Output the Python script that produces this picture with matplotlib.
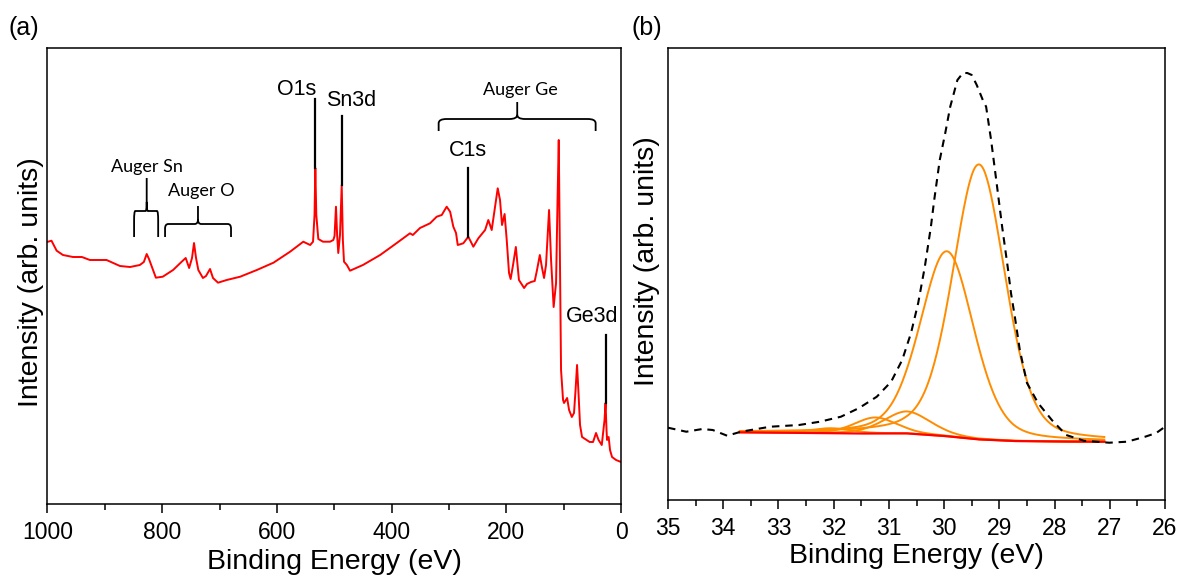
import numpy as np
import matplotlib
matplotlib.use("Agg")
import matplotlib.pyplot as plt
from matplotlib.path import Path
from matplotlib.patches import PathPatch
from matplotlib.ticker import MultipleLocator

plt.rcParams['font.family'] = ['Liberation Sans', 'DejaVu Sans']

# ---------------- (a) survey spectrum ----------------
survey_be = [999, 993, 984, 973, 955.5, 940, 926, 897, 873.6, 856, 839, 832, 827, 823,
             818, 811, 799, 781, 766, 759, 753, 748, 744.5, 741, 737, 729, 723.6, 716.6,
             711.4, 702.7, 687.5, 664, 635, 606, 577, 554, 542, 537, 534.4, 533, 531.3,
             527.8, 519.6, 507.4, 501.6, 499.5, 497, 495, 493, 490, 487, 485, 483, 478,
             472.5, 450, 420, 391, 368, 363, 350.5, 333, 321.4, 312.6, 304, 298, 292.4,
             287.7, 284.7, 275, 266.3, 257.5, 248.8, 237, 231.4, 225.5, 215, 211, 207.5,
             203, 199.3, 195.3, 192.5, 188.3, 183.4, 180.5, 178, 169, 164, 157, 150.5,
             146.5, 141.6, 137.7, 134.2, 130.8, 125.5, 122, 117.5, 113.3, 110.7, 108.6,
             106.7, 104.6, 101.1, 99.4, 94, 90.6, 85.8, 82, 79.3, 76.7, 74, 71.5, 68,
             54.7, 48.8, 43.6, 39.2, 33.6, 28.8, 27, 25.3, 24.4, 21.6, 19.2, 15.7, 8.7, 0]
survey_int = [262.3, 263.3, 253.3, 249, 247, 247, 244, 244, 238, 237, 239, 242, 250, 245,
              237.3, 226.3, 227.3, 234, 242.3, 246, 236, 246, 261, 246, 234, 226, 228, 235,
              226, 221.3, 224, 227.3, 234, 241.3, 252.3, 262.3, 259, 262.3, 289, 336, 289,
              265, 262.3, 262.3, 264, 268, 297.3, 269, 251, 269, 319, 264, 242.3, 239,
              233.3, 239, 249, 261, 270.7, 269, 276, 280.7, 287.3, 289, 297.3, 292.3, 277.3,
              271, 259, 260.7, 267.3, 257.3, 265.7, 274, 284, 274, 315.7, 304, 279,
              290, 264, 231, 225, 239, 257, 239, 224, 216, 220, 222, 223,
              234, 249, 236, 226, 239, 294, 244, 197, 221, 304, 364,
              254, 134, 104, 101, 106, 94, 87, 91, 114, 139, 109, 79, 67,
              62, 62, 71, 64, 59, 84, 101, 74, 64, 67, 54, 47, 44, 42]

# peak markers: label, line x, line bottom, line top, label x, label y
peak_labels = ['O1s', 'Sn3d', 'C1s', 'Ge3d']
peak_line_x = [533, 487, 266, 27]
peak_line_lo = [336, 319, 267, 101]
peak_line_hi = [405, 388, 336, 169]
peak_text_x = [565, 471, 267.5, 50.5]
peak_text_y = [415, 404, 354, 187]

# Auger braces: label, left, right, leg bottom, bar, stem top, label x, label y
auger_labels = ['Auger Sn', 'Auger O', 'Auger Ge']
auger_left = [849, 795, 318]
auger_right = [807, 680, 44.3]
auger_stem = [827, 737.6, 181]
auger_bottom = [267, 267, 373]
auger_bar = [293, 280, 385]
auger_top = [326, 298, 402]
auger_text_x = [826.5, 732, 176]
auger_text_y = [337, 313, 414]

# ---------------- (b) Ge3d region ----------------
ge_be = [35.0, 34.67, 34.38, 34.19, 33.93, 33.68, 33.15, 32.63, 32.25, 31.87, 31.54,
         31.22, 30.96, 30.76, 30.60, 30.47, 30.35, 30.24, 30.18, 30.08, 29.98, 29.89,
         29.76, 29.66, 29.58, 29.50, 29.41, 29.30, 29.24, 29.15, 29.05, 28.95, 28.85,
         28.79, 28.72, 28.63, 28.50, 28.30, 28.05, 27.79, 27.47, 27.01, 26.69, 26.36,
         26.16, 26.0]
ge_int = [72.3, 68.3, 71, 70, 64.3, 68.3, 73.3, 75, 78.3, 83.3, 92,
          103.3, 118.3, 140, 167, 197, 233.3, 273.3, 300, 340, 367, 393.3,
          420, 427, 427, 425, 415, 400, 393.3, 360, 317, 273.3, 233.3,
          207, 183.3, 150, 117, 97, 80, 65, 59.3, 57.3, 58.3, 63.3,
          67, 73.3]

bg_be = [33.7, 32.5, 31.5, 30.7, 30.05, 29.4, 28.76, 28.0, 27.1]
bg_int = [67.7, 67.0, 66.5, 66.7, 64.3, 60.7, 59.0, 58.5, 58.3]

comp_center = [29.37, 29.95, 30.67, 31.25, 32.05]
comp_height = [275, 185, 22, 16, 5]
comp_fwhm = [1.12, 1.15, 1.0, 0.9, 0.9]
comp_gl_mix = 0.3

RED = '#ff0000'
ORANGE = '#ff8c00'

fig = plt.figure(figsize=(11.78, 5.75), dpi=100)
ax1 = fig.add_axes([0.0403, 0.1235, 0.4869, 0.793])
ax2 = fig.add_axes([0.5671, 0.1304, 0.4219, 0.7861])

ax1.plot(survey_be, survey_int, color=RED, lw=1.4)
ax1.set_xlim(1000, 0)
ax1.set_ylim(0, 456)

for lab, x, lo, hi, tx, ty in zip(peak_labels, peak_line_x, peak_line_lo,
                                  peak_line_hi, peak_text_x, peak_text_y):
    ax1.plot([x, x], [lo, hi], color='black', lw=1.6)
    ax1.text(tx, ty, lab, ha='center', va='center', fontsize=15.5)

# curly braces over the Auger regions
for lab, x0, x1, xm, yb, ybar, yt, tx, ty in zip(auger_labels, auger_left, auger_right,
                                                 auger_stem, auger_bottom, auger_bar,
                                                 auger_top, auger_text_x, auger_text_y):
    dx = -abs(x1 - x0) * 0.05
    dy = (ybar - yb) * 0.35
    verts = [(x0, yb), (x0, ybar - dy), (x0, ybar), (x0 + dx, ybar),
             (xm - dx, ybar), (xm, ybar), (xm, ybar + dy), (xm, yt),
             (x1, yb), (x1, ybar - dy), (x1, ybar), (x1 - dx, ybar),
             (xm + dx, ybar), (xm, ybar), (xm, ybar + dy)]
    codes = [Path.MOVETO, Path.LINETO, Path.CURVE3, Path.CURVE3,
             Path.LINETO, Path.CURVE3, Path.CURVE3, Path.LINETO,
             Path.MOVETO, Path.LINETO, Path.CURVE3, Path.CURVE3,
             Path.LINETO, Path.CURVE3, Path.CURVE3]
    ax1.add_patch(PathPatch(Path(verts, codes), fill=False, lw=1.3,
                            edgecolor='black'))
    ax1.text(tx, ty, lab, ha='center', va='center', fontsize=13,
             family=['Lato', 'DejaVu Sans'])

ax1.xaxis.set_major_locator(MultipleLocator(200))
ax1.xaxis.set_minor_locator(MultipleLocator(100))
ax1.set_yticks([])

# Ge3d fit: background plus pseudo-Voigt components
e = np.linspace(33.7, 27.1, 400)
bg = np.interp(e, bg_be[::-1], bg_int[::-1])
for c, h, w in zip(comp_center, comp_height, comp_fwhm):
    u = (e - c) / (w / 2)
    shape = comp_gl_mix / (1 + u ** 2) + (1 - comp_gl_mix) * np.exp(-np.log(2) * u ** 2)
    ax2.plot(e, bg + h * shape, color=ORANGE, lw=1.4)
ax2.plot(e, bg, color=RED, lw=1.6)
ax2.plot(ge_be, ge_int, color='black', lw=1.5, ls=(0, (3.6, 2.8)))
ax2.set_xlim(35, 26)
ax2.set_ylim(0, 452)
ax2.xaxis.set_major_locator(MultipleLocator(1))
ax2.xaxis.set_minor_locator(MultipleLocator(0.5))
ax2.set_yticks([])

for ax in (ax1, ax2):
    for s in ax.spines.values():
        s.set_linewidth(1.1)
    ax.tick_params(axis='x', which='major', direction='out', length=6.5, width=1.1,
                   labelsize=16.5, pad=6)
    ax.tick_params(axis='x', which='minor', direction='out', length=4, width=1.1)
    ax.set_xlabel('Binding Energy (eV)', fontsize=20.5)
    ax.set_ylabel('Intensity (arb. units)', fontsize=20.5)
    ax.xaxis.label.set_va('center')
    ax.yaxis.label.set_va('center')

ax1.xaxis.set_label_coords(0.5, -0.128)
ax1.yaxis.set_label_coords(-0.029, 0.486)
ax2.xaxis.set_label_coords(0.5, -0.124)
ax2.yaxis.set_label_coords(-0.042, 0.528)

fig.text(0.0204, 0.951, '(a)', ha='center', va='center', fontsize=18)
fig.text(0.549, 0.951, '(b)', ha='center', va='center', fontsize=18)

fig.savefig('out.png', dpi=100)
